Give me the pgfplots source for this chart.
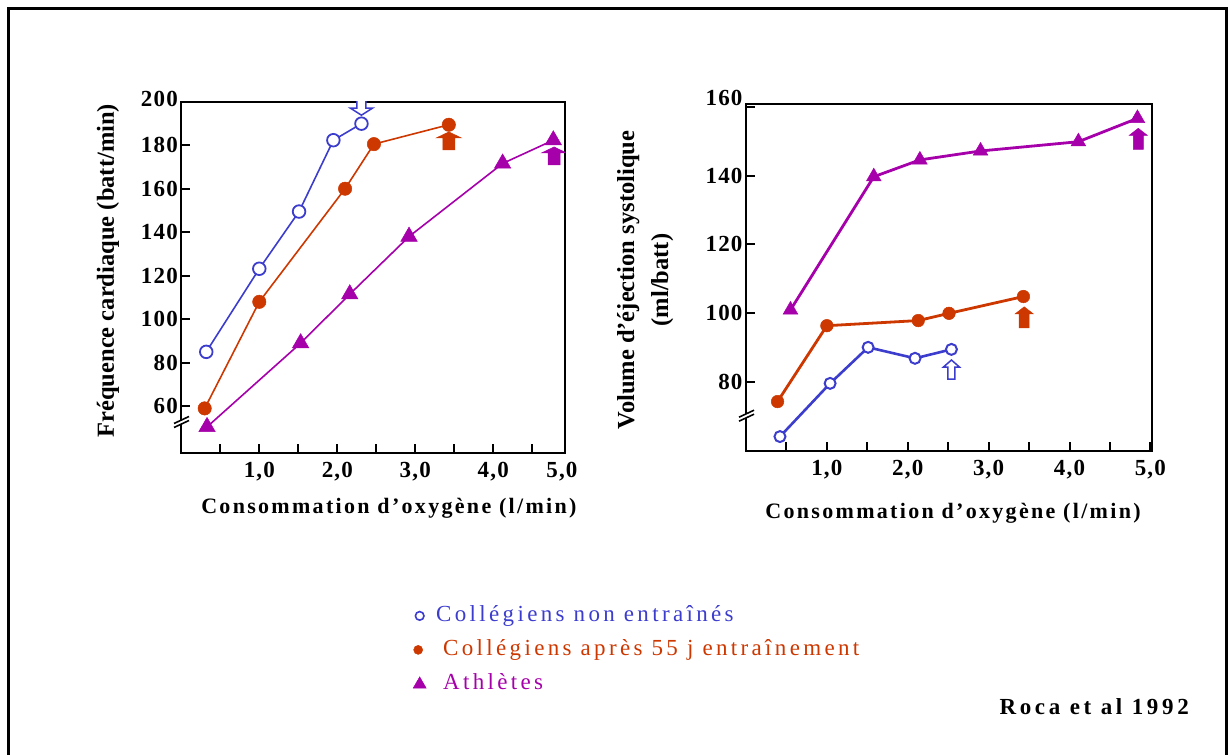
\documentclass[border=0pt]{standalone}
\usepackage{fontspec}
\setmainfont{Liberation Serif}
\newfontfamily\spA[LetterSpace=14.5]{Liberation Serif}
\newfontfamily\spB[LetterSpace=10.5]{Liberation Serif}
\newfontfamily\spC[LetterSpace=5]{Liberation Serif}
\newfontfamily\spD[LetterSpace=16]{Liberation Serif}
\usepackage{pgfplots}
\pgfplotsset{compat=1.18}
\definecolor{blueC}{RGB}{60,60,205}
\definecolor{oranC}{RGB}{205,55,0}
\definecolor{purpC}{RGB}{165,0,170}

% block arrows, tip at the data point
\pgfdeclareplotmark{upL}{%
 \pgfpathmoveto{\pgfqpoint{0pt}{0pt}}%
 \pgfpathlineto{\pgfqpoint{12.5pt}{-6pt}}%
 \pgfpathlineto{\pgfqpoint{6pt}{-6pt}}%
 \pgfpathlineto{\pgfqpoint{6pt}{-18pt}}%
 \pgfpathlineto{\pgfqpoint{-6pt}{-18pt}}%
 \pgfpathlineto{\pgfqpoint{-6pt}{-6pt}}%
 \pgfpathlineto{\pgfqpoint{-12.5pt}{-6pt}}%
 \pgfpathclose\pgfusepathqfillstroke}
\pgfdeclareplotmark{downL}{%
 \pgfpathmoveto{\pgfqpoint{0pt}{0pt}}%
 \pgfpathlineto{\pgfqpoint{11pt}{7pt}}%
 \pgfpathlineto{\pgfqpoint{4.5pt}{7pt}}%
 \pgfpathlineto{\pgfqpoint{4.5pt}{22pt}}%
 \pgfpathlineto{\pgfqpoint{-4.5pt}{22pt}}%
 \pgfpathlineto{\pgfqpoint{-4.5pt}{7pt}}%
 \pgfpathlineto{\pgfqpoint{-11pt}{7pt}}%
 \pgfpathclose\pgfusepathqfillstroke}
\pgfdeclareplotmark{upR}{%
 \pgfpathmoveto{\pgfqpoint{0pt}{0pt}}%
 \pgfpathlineto{\pgfqpoint{9pt}{-7pt}}%
 \pgfpathlineto{\pgfqpoint{5pt}{-7pt}}%
 \pgfpathlineto{\pgfqpoint{5pt}{-21pt}}%
 \pgfpathlineto{\pgfqpoint{-5pt}{-21pt}}%
 \pgfpathlineto{\pgfqpoint{-5pt}{-7pt}}%
 \pgfpathlineto{\pgfqpoint{-9pt}{-7pt}}%
 \pgfpathclose\pgfusepathqfillstroke}
\pgfdeclareplotmark{upRo}{%
 \pgfpathmoveto{\pgfqpoint{0pt}{0pt}}%
 \pgfpathlineto{\pgfqpoint{8pt}{-7pt}}%
 \pgfpathlineto{\pgfqpoint{3.5pt}{-7pt}}%
 \pgfpathlineto{\pgfqpoint{3.5pt}{-19pt}}%
 \pgfpathlineto{\pgfqpoint{-3.5pt}{-19pt}}%
 \pgfpathlineto{\pgfqpoint{-3.5pt}{-7pt}}%
 \pgfpathlineto{\pgfqpoint{-8pt}{-7pt}}%
 \pgfpathclose\pgfusepathqfillstroke}

\pgfplotsset{
  panel/.style={
    scale only axis, clip mode=global,
    axis line style={line width=2pt},
    every tick/.style={black, line width=2pt},
    major tick length=9pt, tick align=inside,
    xtick pos=bottom, ytick pos=left,
    ticklabel style={font=\spC\bfseries\fontsize{23}{23}\selectfont},
    yticklabel style={/pgf/number format/assume math mode=true},
    xticklabel style={yshift=-6pt},
    xlabel style={font=\spB\bfseries\fontsize{22}{22}\selectfont, anchor=center},
    ylabel style={font=\bfseries\fontsize{24.5}{34}\selectfont, anchor=center},
  }
}

\begin{document}
\begin{tikzpicture}
\useasboundingbox (0pt,0pt) rectangle (1229pt,755pt);
\draw[line width=3pt] (8.5pt,-5pt) -- (8.5pt,746pt) -- (1226.5pt,746pt) -- (1226.5pt,-5pt);

% ---------------- left panel -----------------
\begin{axis}[panel,
  at={(181.3pt,302pt)}, anchor=south west,
  width=383.7pt, height=351.3pt,
  clip marker paths=true,
  xmin=0, xmax=4.92, ymin=38.5, ymax=200,
  ytick={60,80,...,180},
  extra y ticks={200}, extra y tick style={yticklabel style={yshift=3pt}},
  xtick={0.5,1,1.5,2,2.5,3,3.5,4,4.5},
  xticklabels={{},{1,0},{},{2,0},{},{3,0},{},{4,0},{}},
  extra x ticks={4.88}, extra x tick labels={5{,}0},
  extra x tick style={major tick length=0pt},
  xlabel={Consommation d’oxygène (l/min)},
  xlabel style={at={(axis description cs:0.541,-0.1566)}},
  ylabel={Fréquence cardiaque (batt/min)},
  ylabel style={at={(axis description cs:-0.191,0.519)}},
  legend cell align=left,
  legend style={at={(axis description cs:0.5973,-0.4318)}, anchor=north west,
    draw=none, fill=none, inner sep=0pt, row sep=11pt,
    nodes={inner sep=1pt, text height=16pt, text depth=5pt},
    font=\spA\fontsize{23}{23}\selectfont,
    /tikz/every odd column/.append style={column sep=7.5pt}},
]
\addplot[blueC, line width=1.6pt, mark=*, mark size=6.3pt,
  mark options={fill=white, draw=blueC, line width=1.8pt},
  legend image code/.code={\path[draw=none, fill=none] (0pt,-5pt) rectangle (17pt,5pt);
    \draw[blueC, line width=1.6pt, mark=*, mark size=4.3pt, mark options={fill=white}] plot coordinates {(9pt,0.5pt)};}]
  coordinates {(0.32,85) (1.0,123.2) (1.51,149.5) (1.95,182.3) (2.31,189.9)};
\addlegendentry{\textcolor{blueC}{Collégiens non entraînés}}
\addplot[oranC, line width=1.6pt, mark=*, mark size=6.7pt,
  mark options={fill=oranC, draw=oranC, line width=0.5pt},
  legend image code/.code={\path[draw=none, fill=none] (0pt,-5pt) rectangle (17pt,5pt);
    \draw[oranC, fill=oranC, mark=*, mark size=4.5pt] plot coordinates {(7.5pt,0.5pt)};}]
  coordinates {(0.30,59) (1.0,108) (2.10,160) (2.47,180.5) (3.43,189.4)};
\addlegendentry{\hspace*{7pt}\textcolor{oranC}{Collégiens après 55 j entraînement}}
\addplot[purpC, line width=1.6pt, mark=triangle*, mark size=9.5pt,
  mark options={fill=purpC, draw=purpC, line width=0.5pt},
  legend image code/.code={\path[draw=none, fill=none] (0pt,-5pt) rectangle (17pt,5pt);
    \draw[purpC, fill=purpC, mark=triangle*, mark size=7.5pt] plot coordinates {(9pt,0pt)};}]
  coordinates {(0.33,50.5) (1.53,89) (2.16,111.5) (2.92,138) (4.12,171.6) (4.77,182.3)};
\addlegendentry{\hspace*{7pt}\textcolor{purpC}{Athlètes}}
% arrows
\addplot[forget plot, only marks, mark=downL, mark options={fill=white, draw=blueC, line width=1.5pt}]
  coordinates {(2.31,193.8)};
\addplot[forget plot, only marks, mark=upL, mark options={fill=oranC, draw=oranC, line width=0.5pt}]
  coordinates {(3.43,186.1)};
\addplot[forget plot, only marks, mark=upL, mark options={fill=purpC, draw=purpC, line width=0.5pt}]
  coordinates {(4.78,179.2)};
\end{axis}

% ---------------- right panel -----------------
\begin{axis}[panel,
  at={(746pt,304pt)}, anchor=south west,
  width=406pt, height=346.7pt,
  xmin=0, xmax=5.02, ymin=59.8, ymax=160.8,
  ytick={80,100,...,140},
  extra y ticks={160}, extra y tick style={yticklabel style={yshift=9pt}},
  xtick={0.5,1,1.5,2,2.5,3,3.5,4,4.5,5},
  xticklabels={{},{1,0},{},{2,0},{},{3,0},{},{4,0},{},{5,0}},
  xlabel={Consommation d’oxygène (l/min)},
  xlabel style={at={(axis description cs:0.51,-0.179)}},
  ylabel={Volume d’éjection systolique\\(ml/batt)},
  ylabel style={at={(axis description cs:-0.248,0.493)}, align=center},
]
\addplot[purpC, line width=2.8pt, mark=triangle*, mark size=8.5pt,
  mark options={fill=purpC, draw=purpC, line width=0.5pt}]
  coordinates {(0.55,100.9) (1.58,139.7) (2.15,144.6) (2.90,147.2) (4.11,149.9) (4.84,156.7)};
\addplot[oranC, line width=2.8pt, mark=*, mark size=6.3pt,
  mark options={fill=oranC, draw=oranC, line width=0.5pt}]
  coordinates {(0.39,74.2) (1.0,96.3) (2.13,97.8) (2.51,99.9) (3.43,104.8)};
\addplot[blueC, line width=2.6pt, mark=*, mark size=5.5pt,
  mark options={fill=white, draw=blueC, line width=2pt}]
  coordinates {(0.42,64) (1.04,79.5) (1.51,90) (2.09,86.8) (2.54,89.4)};
\addplot[only marks, mark=upR, mark options={fill=oranC, draw=oranC, line width=0.5pt}]
  coordinates {(3.44,101.8)};
\addplot[only marks, mark=upR, mark options={fill=purpC, draw=purpC, line width=0.5pt}]
  coordinates {(4.85,153.8)};
\addplot[only marks, mark=upRo, mark options={fill=white, draw=blueC, line width=1.5pt}]
  coordinates {(2.54,86.3)};
\end{axis}

% axis breaks
\fill[white] (174pt,327.5pt) -- (189pt,334.5pt) -- (189pt,338.5pt) -- (174pt,331.5pt) -- cycle;
\draw[line width=1.6pt] (174pt,327.5pt) -- (189pt,334.5pt);
\draw[line width=1.6pt] (174pt,331.5pt) -- (189pt,338.5pt);
\fill[white] (739pt,333.8pt) -- (754pt,340.8pt) -- (754pt,344.8pt) -- (739pt,337.8pt) -- cycle;
\draw[line width=1.6pt] (739pt,333.8pt) -- (754pt,340.8pt);
\draw[line width=1.6pt] (739pt,337.8pt) -- (754pt,344.8pt);

% source
\node[font=\spD\bfseries\fontsize{23}{23}\selectfont, anchor=base east, inner sep=0pt]
  at (1189pt,40.5pt) {Roca et al 1992};
\end{tikzpicture}
\end{document}
